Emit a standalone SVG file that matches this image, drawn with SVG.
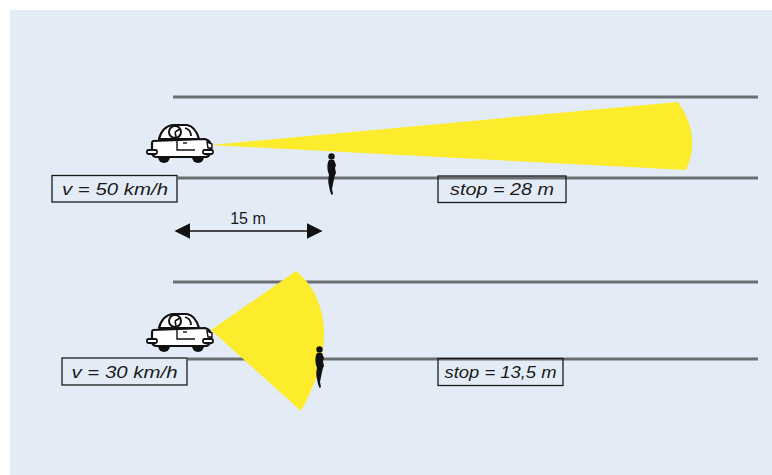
<svg xmlns="http://www.w3.org/2000/svg" width="772" height="475" viewBox="0 0 772 475">
  <style>
    .road { stroke: #6b6f74; stroke-width: 3; fill: none; }
    .beam { fill: #fdec2c; }
    .box { fill: none; stroke: #1a1a1a; stroke-width: 1.3; }
    .lbl { font-family: "Liberation Sans", Arial, sans-serif; font-style: italic; font-size: 17px; fill: #1a1a1a; }
    .dim { font-family: "Liberation Sans", Arial, sans-serif; font-size: 16px; fill: #1a1a1a; }
    .ink { fill: #111; }
  </style>
  <defs>
    <!-- small car seen from the side, headlight at local (63,22) -->
    <g id="car">
      <path d="M12 16 C14 8 18 3 26 2 L40 2 C46 3 50 9 52 16 Z" fill="#fff" stroke="#111" stroke-width="2.2" stroke-linejoin="round"/>
      <path d="M6 18 L58 16 C62 17 64 20 64 24 L63 31 C62 33 60 34 58 34 L10 34 C7 34 5 32 5 29 L5 22 C5 20 5 18 6 18 Z" fill="#fff" stroke="#111" stroke-width="2.2" stroke-linejoin="round"/>
      <circle cx="28" cy="9" r="6" fill="#fff" stroke="#111" stroke-width="2"/>
      <path d="M28 9 L33 6 M28 9 L29 14" stroke="#111" stroke-width="1.6"/>
      <path d="M38 5 C42 6 44 9 44 13" fill="none" stroke="#111" stroke-width="1.8"/>
      <path d="M30 17 L30 27 L48 27" fill="none" stroke="#111" stroke-width="1.4"/>
      <path d="M36 20 L40 20" stroke="#111" stroke-width="1.4"/>
      <rect x="0" y="27" width="10" height="4" rx="1.5" fill="#fff" stroke="#111" stroke-width="1.8"/>
      <rect x="56" y="27" width="10" height="4" rx="1.5" fill="#fff" stroke="#111" stroke-width="1.8"/>
      <path d="M11 34 A6 6 0 0 0 23 34 Z" class="ink"/>
      <path d="M45 34 A6 6 0 0 0 57 34 Z" class="ink"/>
      <path d="M60 19 L65 21 L65 25 L61 25 Z" fill="#fff" stroke="#111" stroke-width="1.4"/>
    </g>
    <!-- walking pedestrian silhouette -->
    <g id="walker">
      <circle cx="4.5" cy="3.5" r="3.2" class="ink"/>
      <path d="M2 7 C0 10 0 15 1 19 L2 22 C1 26 1 30 2 33 L3 38 L4.5 42 L6 41 L5 36 L6 31 L7 26 L8 22 L9 20 L8 15 L9 12 L7 7 Z" class="ink"/>
    </g>
    <marker id="ah" viewBox="0 0 10 10" refX="9" refY="5" markerWidth="16" markerHeight="16" markerUnits="userSpaceOnUse" orient="auto-start-reverse">
      <path d="M0 0 L10 5 L0 10 Z" fill="#111"/>
    </marker>
  </defs>

  <!-- panel -->
  <rect width="772" height="475" fill="#ffffff"/>
  <rect x="10" y="10" width="762" height="465" fill="#e3ecf6"/>

  <!-- upper street, 50 km/h -->
  <g id="scene-50">
    <line class="road" x1="173" y1="97" x2="758" y2="97"/>
    <line class="road" x1="178" y1="178" x2="758" y2="178"/>
    <path class="beam" d="M210 145 L678 102 Q702 136 686 170 Z"/>
    <use href="#walker" x="327" y="153"/>
    <use href="#car" x="147" y="123"/>
  </g>

  <!-- lower street, 30 km/h -->
  <g id="scene-30">
    <line class="road" x1="173" y1="282" x2="758" y2="282"/>
    <line class="road" x1="188" y1="359" x2="758" y2="359"/>
    <path class="beam" d="M211 330 L296 271 C326 295 338 345 301 411 Z"/>
    <use href="#walker" x="315" y="346"/>
    <use href="#car" x="147" y="312"/>
  </g>

  <!-- labels -->
  <g id="label-v50">
    <rect class="box" x="52" y="175.5" width="125" height="26.5" fill="#e3ecf6"/>
    <text class="lbl" x="115" y="194.5" text-anchor="middle" textLength="106" lengthAdjust="spacingAndGlyphs">v = 50 km/h</text>
  </g>
  <g id="label-stop28">
    <rect class="box" x="438" y="176" width="128" height="26.5"/>
    <text class="lbl" x="502" y="195" text-anchor="middle" textLength="104" lengthAdjust="spacingAndGlyphs">stop = 28 m</text>
  </g>
  <g id="label-v30">
    <rect class="box" x="62" y="358" width="125" height="27" fill="#e3ecf6"/>
    <text class="lbl" x="124.5" y="377.5" text-anchor="middle" textLength="106" lengthAdjust="spacingAndGlyphs">v = 30 km/h</text>
  </g>
  <g id="label-stop135">
    <rect class="box" x="438" y="358.5" width="125" height="27"/>
    <text class="lbl" x="500.5" y="377.5" text-anchor="middle" textLength="112" lengthAdjust="spacingAndGlyphs">stop = 13,5 m</text>
  </g>

  <!-- distance dimension -->
  <g id="connectors">
    <line x1="176" y1="231" x2="321" y2="231" stroke="#111" stroke-width="1.6" marker-start="url(#ah)" marker-end="url(#ah)"/>
  </g>
  <text class="dim" x="248" y="224" text-anchor="middle">15 m</text>
</svg>
